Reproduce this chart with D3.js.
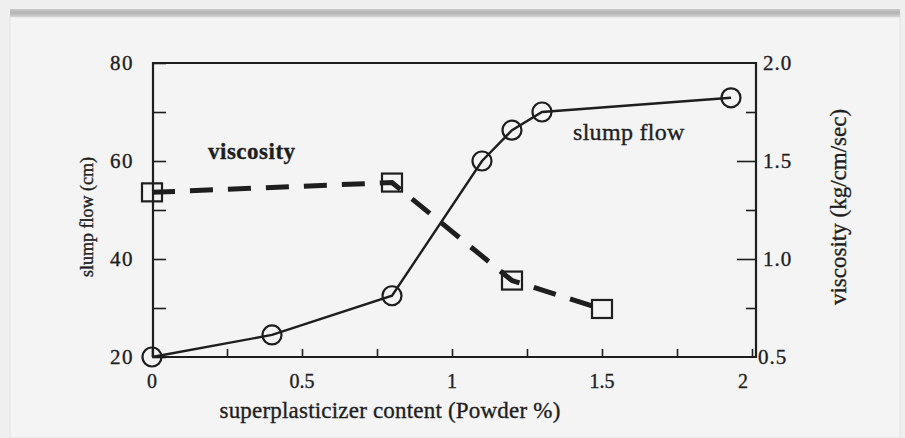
<!DOCTYPE html>
<html><head><meta charset="utf-8">
<script src="https://cdn.jsdelivr.net/npm/d3@7"></script>
<style>body{margin:0;background:#eeeeee;} svg{display:block;}</style>
</head><body>
<svg id="c" width="905" height="438"></svg>
<script>
const slumpX = [0, 0.4, 0.8, 1.1, 1.2, 1.3, 1.93];
const slumpY = [20, 24.5, 32.5, 60, 66.3, 70, 72.9];
const viscX = [0, 0.8, 1.2, 1.5];
const viscY = [1.34, 1.39, 0.89, 0.745];
const xTicks = [0, 0.5, 1, 1.5, 2];
const xTickLabels = ["0", "0.5", "1", "1.5", "2"];
const yLeftTicks = [20, 40, 60, 80];
const yRightTicks = [0.5, 1.0, 1.5, 2.0];
const yRightLabels = ["0.5", "1.0", "1.5", "2.0"];
const xLabel = "superplasticizer content (Powder %)";
const yLeftLabel = "slump flow (cm)";
const yRightLabel = "viscosity (kg/cm/sec)";

const svg = d3.select("#c");
const ink = "#1e1e1e";
const font = "'Liberation Serif', 'DejaVu Serif', serif";

// frame / background
const defs = svg.append("defs");
const g1 = defs.append("linearGradient").attr("id","band").attr("x1",0).attr("y1",0).attr("x2",0).attr("y2",1);
g1.append("stop").attr("offset","0").attr("stop-color","#c9c9c9");
g1.append("stop").attr("offset","0.5").attr("stop-color","#b3b3b3");
g1.append("stop").attr("offset","1").attr("stop-color","#d6d6d6");
svg.append("rect").attr("x",0).attr("y",0).attr("width",905).attr("height",438).attr("fill","#efefef");
svg.append("rect").attr("x",10).attr("y",17).attr("width",890).attr("height",421).attr("fill","#f4f4f4").attr("stroke","#e2e2e2");
svg.append("rect").attr("x",10).attr("y",9).attr("width",890).attr("height",8).attr("fill","url(#band)");

const L = 153, R = 756, T = 63, B = 357;
const x = d3.scaleLinear().domain([0, 2]).range([152, 752]);
const yL = d3.scaleLinear().domain([20, 80]).range([B, T]);
const yR = d3.scaleLinear().domain([0.5, 2.0]).range([B, T]);

const txt = (sel) => sel.attr("font-family",font).attr("fill",ink)
  .attr("stroke",ink).attr("stroke-width",0.35);

// axes frame
const frame = svg.append("g").attr("stroke", ink).attr("stroke-width", 2.2).attr("fill","none");
frame.append("path").attr("d", `M${L},${B}V${T}H${R}V${B}H${L}`);

// bottom axis (ticks inward)
const xAx = svg.append("g").attr("transform",`translate(0,${B})`)
  .call(d3.axisBottom(x).tickValues(d3.range(0, 2.01, 0.25)).tickSize(-8).tickFormat(""));
xAx.select(".domain").remove();
xAx.selectAll("line").attr("stroke", ink).attr("stroke-width", 1.6);
svg.append("g").selectAll("text").data(xTicks).join("text")
  .attr("x", (d,i)=>x(d) - (i===4?9:0)).attr("y", 388)
  .attr("text-anchor","middle").attr("font-size",20).call(txt)
  .text((d,i)=>xTickLabels[i]);

// left axis ticks inward
const yAxL = svg.append("g").attr("transform",`translate(${L},0)`)
  .call(d3.axisLeft(yL).tickValues(d3.range(20, 80.1, 10)).tickSize(-13).tickFormat(""));
yAxL.select(".domain").remove();
yAxL.selectAll("line").attr("stroke", ink).attr("stroke-width", 1.6);
svg.append("g").selectAll("text").data(yLeftTicks).join("text")
  .attr("x", 134).attr("y", d=>yL(d)+7)
  .attr("text-anchor","end").attr("font-size",21).attr("letter-spacing",1.5).call(txt)
  .text(d=>d);

// right axis ticks inward
const yAxR = svg.append("g").attr("transform",`translate(${R},0)`)
  .call(d3.axisRight(yR).tickValues([0.75,1.25,1.75]).tickSize(-10).tickFormat(""));
yAxR.select(".domain").remove();
yAxR.selectAll("line").attr("stroke", ink).attr("stroke-width", 1.6);
const yAxR2 = svg.append("g").attr("transform",`translate(${R},0)`)
  .call(d3.axisRight(yR).tickValues([1.0,1.5]).tickSize(-19).tickFormat(""));
yAxR2.select(".domain").remove();
yAxR2.selectAll("line").attr("stroke", ink).attr("stroke-width", 1.6);
svg.append("g").selectAll("text").data(yRightTicks).join("text")
  .attr("x", (d)=> d===0.5 ? 758 : 763).attr("y", d=>yR(d)+7)
  .attr("font-size",21).attr("letter-spacing",1).call(txt)
  .text((d,i)=>yRightLabels[i]);

// axis titles
svg.append("text").attr("x", 390).attr("y", 418).attr("text-anchor","middle")
  .attr("font-size",23).attr("letter-spacing",0.2).call(txt).text(xLabel);
svg.append("text").attr("transform","translate(93,217) rotate(-90)").attr("text-anchor","middle")
  .attr("font-size",18).call(txt).text(yLeftLabel);
svg.append("text").attr("transform","translate(846,207) rotate(-90)").attr("text-anchor","middle")
  .attr("font-size",23).call(txt).text(yRightLabel);

// series
const slump = slumpX.map((v,i)=>({x:v, y:slumpY[i]}));
const visc = viscX.map((v,i)=>({x:v, y:viscY[i]}));

svg.append("path").datum(visc)
  .attr("d", d3.line().x(d=>x(d.x)).y(d=>yR(d.y)))
  .attr("fill","none").attr("stroke", ink).attr("stroke-width", 5).attr("stroke-dasharray","23,15");
svg.append("g").selectAll("rect").data(visc).join("rect")
  .attr("x", d=>x(d.x)-10).attr("y", d=>yR(d.y)-9).attr("width",20).attr("height",18)
  .attr("fill","none").attr("stroke", ink).attr("stroke-width", 2.2);

svg.append("path").datum(slump)
  .attr("d", d3.line().x(d=>x(d.x)).y(d=>yL(d.y)))
  .attr("fill","none").attr("stroke", ink).attr("stroke-width", 2.4);
svg.append("g").selectAll("circle").data(slump).join("circle")
  .attr("cx", d=>x(d.x)).attr("cy", d=>yL(d.y)).attr("r", 9.5)
  .attr("fill","none").attr("stroke", ink).attr("stroke-width", 2.2);

// in-plot labels
svg.append("text").attr("x", 208).attr("y", 159).attr("font-size",23)
  .attr("font-weight","bold").attr("letter-spacing",0.5).call(txt).text("viscosity");
svg.append("text").attr("x", 573).attr("y", 140).attr("font-size",24)
  .attr("letter-spacing",0.3).call(txt).text("slump flow");
</script>
</body></html>
